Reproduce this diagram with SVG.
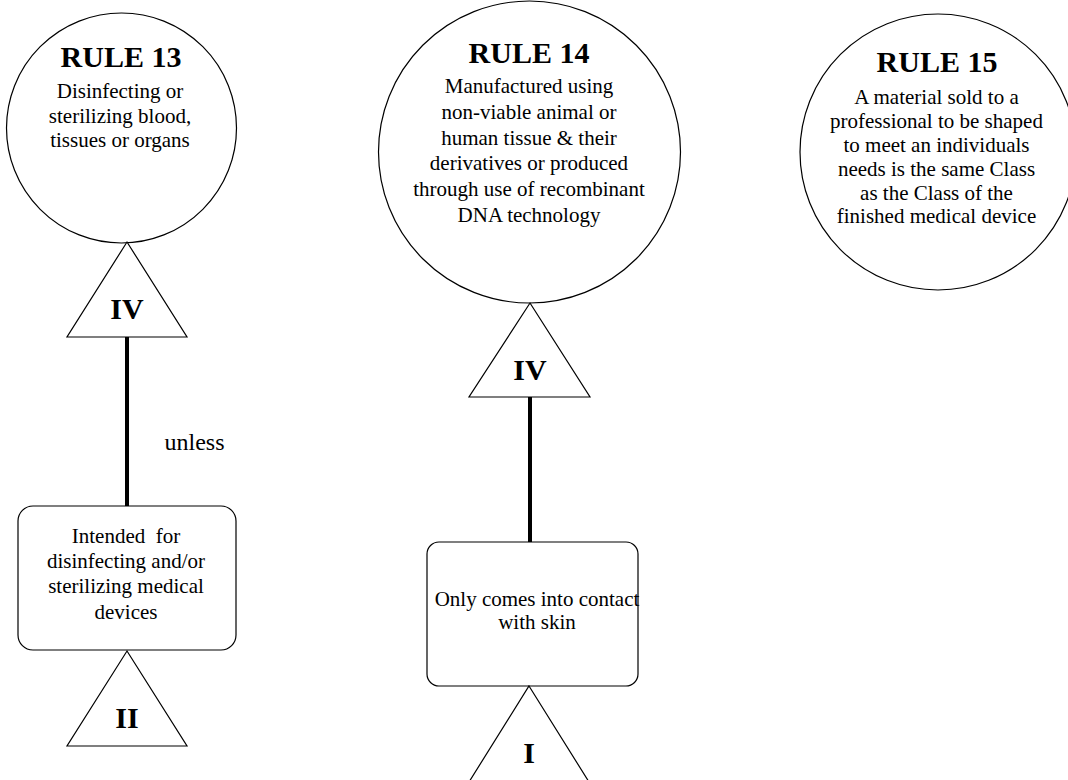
<svg xmlns="http://www.w3.org/2000/svg" width="1068" height="780" viewBox="0 0 1068 780">
<style>
.shape{fill:#fff;stroke:#000;stroke-width:1.2}
.conn{stroke:#000;stroke-width:4;fill:none}
.title{font-family:"Liberation Serif","Times New Roman",serif;font-weight:bold;font-size:30px;text-anchor:middle;fill:#000}
.txt{font-family:"Liberation Serif","Times New Roman",serif;font-size:21px;text-anchor:middle;fill:#000}
.cls{font-family:"Liberation Serif","Times New Roman",serif;font-weight:bold;font-size:30px;text-anchor:middle;fill:#000}
</style>
<rect width="1068" height="780" fill="#fff"/>
<g id="connectors">
<line class="conn" x1="127" y1="337" x2="127" y2="506"/>
<line class="conn" x1="530" y1="397" x2="530" y2="542"/>
<text class="txt" x="194.5" y="450" style="font-size:24px">unless</text>
</g>
<g id="rule13">
<circle class="shape" cx="121.5" cy="128" r="115"/>
<text class="title" x="121" y="67">RULE 13</text>
<text class="txt" x="120" y="98">Disinfecting or</text>
<text class="txt" x="120" y="122.5">sterilizing blood,</text>
<text class="txt" x="120" y="147">tissues or organs</text>
</g>
<g id="rule13-class-IV">
<polygon class="shape" points="127,242 187,337 67,337"/>
<text class="cls" x="127" y="319">IV</text>
</g>
<g id="rule13-box">
<rect class="shape" x="18" y="506" width="218" height="144" rx="15" ry="15"/>
<text class="txt" x="126" y="543" xml:space="preserve">Intended  for</text>
<text class="txt" x="126" y="568">disinfecting and/or</text>
<text class="txt" x="126" y="593">sterilizing medical</text>
<text class="txt" x="126" y="619">devices</text>
</g>
<g id="rule13-class-II">
<polygon class="shape" points="127,651 187,746 67,746"/>
<text class="cls" x="127" y="728">II</text>
</g>
<g id="rule14">
<circle class="shape" cx="529.5" cy="152" r="151"/>
<text class="title" x="529" y="63">RULE 14</text>
<text class="txt" x="529" y="93">Manufactured using</text>
<text class="txt" x="529" y="119">non-viable animal or</text>
<text class="txt" x="529" y="145">human tissue &amp; their</text>
<text class="txt" x="529" y="170">derivatives or produced</text>
<text class="txt" x="529" y="196">through use of recombinant</text>
<text class="txt" x="529" y="222">DNA technology</text>
</g>
<g id="rule14-class-IV">
<polygon class="shape" points="530,303 590,397 469,397"/>
<text class="cls" x="530" y="380">IV</text>
</g>
<g id="rule14-box">
<rect class="shape" x="427" y="542" width="211" height="144" rx="12" ry="12"/>
<text class="txt" x="537" y="606">Only comes into contact</text>
<text class="txt" x="537" y="629">with skin</text>
</g>
<g id="rule14-class-I">
<polygon class="shape" points="529,686 589,782 469,782"/>
<text class="cls" x="529" y="763">I</text>
</g>
<g id="rule15">
<circle class="shape" cx="938" cy="152" r="138"/>
<text class="title" x="937" y="72">RULE 15</text>
<text class="txt" x="936.5" y="104">A material sold to a</text>
<text class="txt" x="936.5" y="128">professional to be shaped</text>
<text class="txt" x="936.5" y="152">to meet an individuals</text>
<text class="txt" x="936.5" y="176">needs is the same Class</text>
<text class="txt" x="936.5" y="200">as the Class of the</text>
<text class="txt" x="936.5" y="223">finished medical device</text>
</g>
</svg>
